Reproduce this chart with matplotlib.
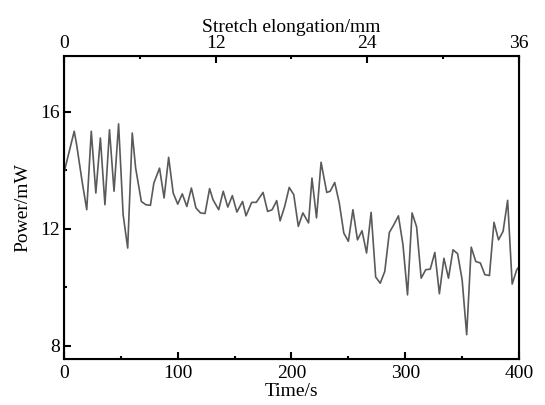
import numpy as np
import matplotlib
matplotlib.use("Agg")
import matplotlib.pyplot as plt
from matplotlib.ticker import MultipleLocator

plt.rcParams["font.family"] = ["Liberation Serif", "DejaVu Serif"]
plt.rcParams["font.size"] = 14

# time (s) and power (mW)
time_s = [0, 1, 9, 11, 16, 20, 24, 28, 32, 36, 40, 44, 48, 52, 56, 60, 63, 68, 72, 76,
          79, 84, 88, 92, 96, 100, 104, 108, 112, 116, 120, 124, 128, 131, 136, 140, 144,
          148, 152, 157, 160, 165, 169, 175, 179, 183, 187, 190, 194, 198, 202, 206, 210,
          215, 218, 222, 226, 231, 234, 238, 242, 246, 250, 254, 258, 262, 266, 270, 274,
          278, 282, 286, 290, 294, 298, 302, 306, 310, 314, 318, 322, 326, 330, 334, 338,
          342, 346, 350, 354, 358, 362, 366, 370, 374, 378, 382, 386, 390, 394, 398, 400]
power_mw = [13.9, 14.07, 15.33, 14.9, 13.6, 12.65, 15.33, 13.22, 15.10, 12.82, 15.38,
            13.28, 15.58, 12.48, 11.34, 15.27, 14.07, 12.93, 12.82, 12.80, 13.56, 14.07,
            13.05, 14.44, 13.22, 12.84, 13.19, 12.76, 13.39, 12.71, 12.54, 12.52, 13.37,
            12.99, 12.65, 13.28, 12.74, 13.13, 12.57, 12.93, 12.44, 12.90, 12.90, 13.24,
            12.59, 12.65, 12.96, 12.27, 12.76, 13.41, 13.16, 12.08, 12.54, 12.20, 13.73,
            12.37, 14.27, 13.24, 13.28, 13.58, 12.88, 11.85, 11.57, 12.65, 11.62, 11.93,
            11.17, 12.56, 10.35, 10.14, 10.54, 11.87, 12.14, 12.44, 11.45, 9.74, 12.54,
            12.06, 10.31, 10.60, 10.62, 11.19, 9.78, 10.99, 10.31, 11.28, 11.15, 10.26,
            8.38, 11.37, 10.88, 10.83, 10.43, 10.40, 12.22, 11.62, 11.91, 12.97, 10.11,
            10.60, 10.70]

fig = plt.figure(figsize=(5.45, 4.05), dpi=100)
ax = fig.add_axes([0.1174, 0.1136, 0.8349, 0.7481])
ax.plot(time_s, power_mw, color="#5a5a5a", lw=1.2)

ax.set_xlim(0, 400)
ax.set_ylim(7.55, 17.9)
ax.xaxis.set_major_locator(MultipleLocator(100))
ax.xaxis.set_minor_locator(MultipleLocator(50))
ax.yaxis.set_major_locator(MultipleLocator(4))
ax.yaxis.set_minor_locator(MultipleLocator(2))
ax.tick_params(which="both", direction="in", top=False, right=False, width=1.5)
ax.tick_params(which="major", length=5, pad=3)
ax.tick_params(axis="x", which="major", pad=4)
ax.tick_params(which="minor", length=2.5)
for s in ax.spines.values():
    s.set_linewidth(1.5)
ax.set_xlabel("Time/s", labelpad=1)
ax.set_ylabel("Power/mW", labelpad=6)

ax2 = ax.twiny()
ax2.set_xlim(0, 36)
ax2.xaxis.set_major_locator(MultipleLocator(12))
ax2.xaxis.set_minor_locator(MultipleLocator(6))
ax2.tick_params(which="both", direction="in", width=1.5)
ax2.tick_params(which="major", length=5, pad=3)
ax2.tick_params(which="minor", length=2.5)
ax2.set_xlabel("Stretch elongation/mm", labelpad=2)

fig.savefig("out.png", dpi=100)
